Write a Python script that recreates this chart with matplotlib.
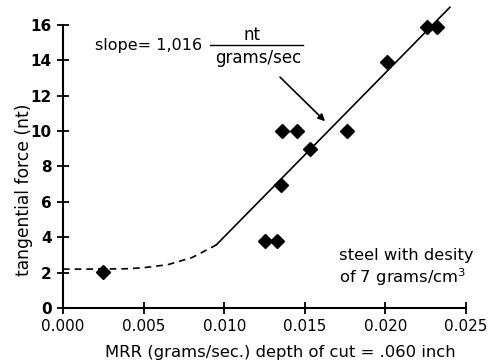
import matplotlib
matplotlib.use("Agg")
import matplotlib.pyplot as plt

# data points
mrr = [0.0025, 0.0125, 0.0133, 0.0135, 0.0136, 0.0145, 0.0153, 0.0176, 0.0201, 0.0226, 0.0232]
force = [2.05, 3.8, 3.8, 6.95, 10.0, 10.0, 9.0, 10.0, 13.9, 15.9, 15.9]

# fitted lines
fit_x = [0.0095, 0.0240]
fit_y = [3.56, 17.0]
dash_x = [0.0, 0.002, 0.004, 0.005, 0.0065, 0.008, 0.0095]
dash_y = [2.2, 2.2, 2.22, 2.28, 2.45, 2.85, 3.56]

xticks = [0.000, 0.005, 0.010, 0.015, 0.020, 0.025]
xtick_labels = ["0.000", "0.005", "0.010", "0.015", "0.020", "0.025"]
yticks = [0, 2, 4, 6, 8, 10, 12, 14, 16]

plt.rcParams['font.family'] = ['DejaVu Sans']
fig = plt.figure(figsize=(4.9, 3.64), dpi=100)
ax = fig.add_axes([0.1286, 0.1538, 0.8224, 0.8262])

ax.plot(dash_x, dash_y, color='black', lw=1.2, ls=(0, (4, 3)))
ax.plot(fit_x, fit_y, color='black', lw=1.2, clip_on=False)
ax.plot(mrr, force, ls='none', marker='D', color='black', markersize=7, clip_on=False)

ax.set_xlim(0, 0.025)
ax.set_ylim(0, 17)
ax.set_xticks(xticks)
ax.set_xticklabels(xtick_labels)
ax.set_yticks(yticks)
for s in ['top', 'right']:
    ax.spines[s].set_visible(False)
ax.spines['left'].set_bounds(0, 16)
ax.spines['left'].set_linewidth(1.5)
ax.spines['bottom'].set_linewidth(1.5)
ax.tick_params(direction='inout', length=9, width=1.3, labelsize=11)
for lab in ax.get_yticklabels():
    lab.set_fontweight('bold')

ax.set_xlabel("MRR (grams/sec.) depth of cut = .060 inch", fontsize=11.8)
ax.xaxis.set_label_coords(0.538, -0.122)
ax.set_ylabel("tangential force (nt)", fontsize=12.3)
ax.yaxis.set_label_coords(-0.075, 0.392)

# slope annotation
ax.text(0.00198, 14.86, "slope= 1,016", fontsize=11.5, va='center', ha='left')
ax.text(0.0117, 15.45, "nt", fontsize=12, va='center', ha='center')
ax.text(0.0121, 14.15, "grams/sec", fontsize=12, va='center', ha='center')
ax.plot([0.0091, 0.0149], [14.86, 14.86], color='black', lw=1.0)
ax.annotate("", xy=(0.01638, 10.45), xytext=(0.01334, 13.16),
            arrowprops=dict(arrowstyle='-|>', color='black', lw=1.2, mutation_scale=10))

ax.text(0.0171, 2.27, "steel with desity\nof 7 grams/cm$^3$", fontsize=11.8, va='center', ha='left', linespacing=1.2)

fig.savefig("out.png", dpi=100)
